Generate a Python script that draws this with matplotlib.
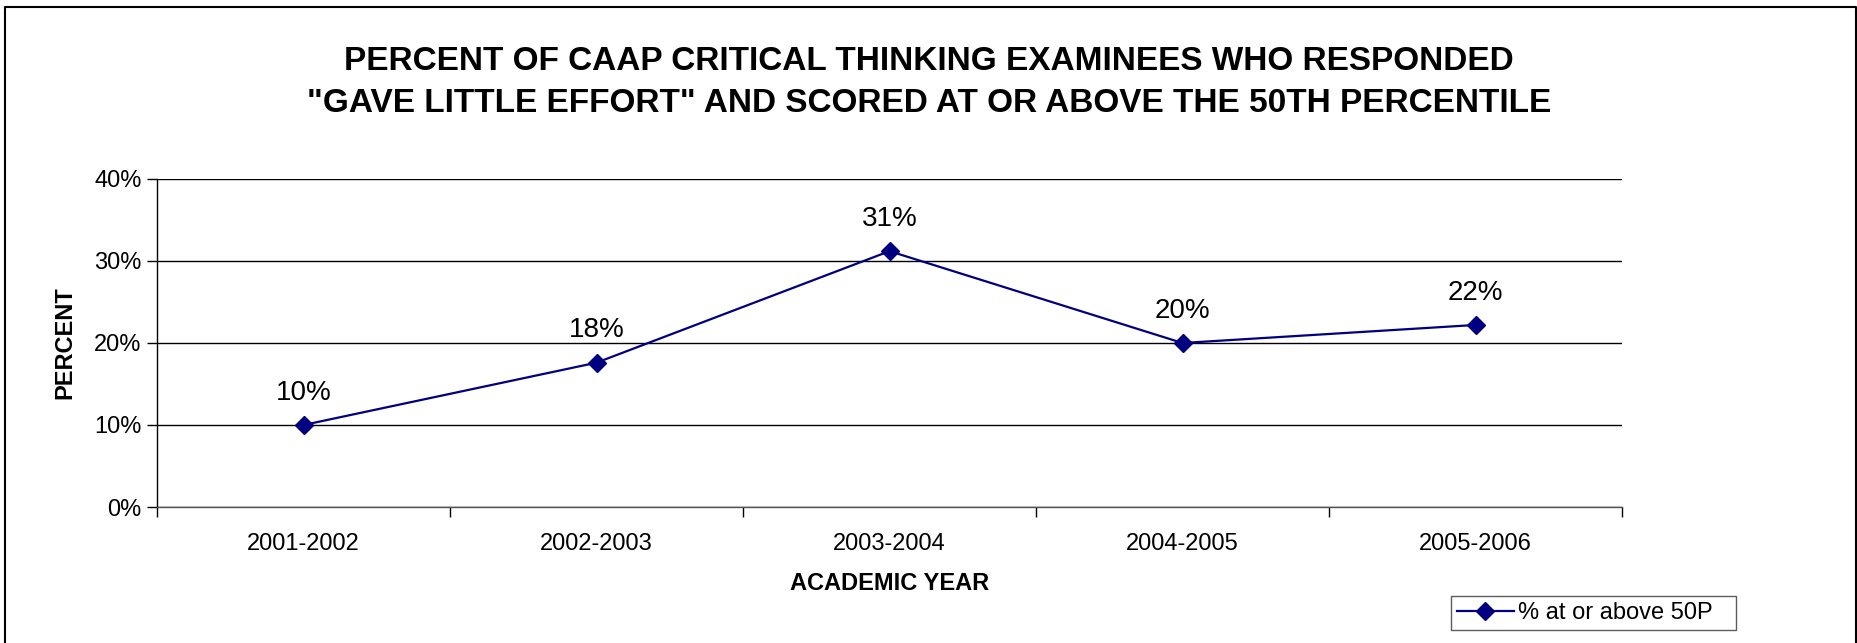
import matplotlib
matplotlib.use("Agg")
import matplotlib.pyplot as plt
from matplotlib.lines import Line2D

plt.rcParams["font.family"] = ["Liberation Sans", "DejaVu Sans"]

years = ["2001-2002", "2002-2003", "2003-2004", "2004-2005", "2005-2006"]
pct = [10.0, 17.6, 31.2, 20.0, 22.2]
labels = ["10%", "18%", "31%", "20%", "22%"]
yticks = [0, 10, 20, 30, 40]

NAVY = "#000080"

fig = plt.figure(figsize=(18.58, 6.43), dpi=100)
ax = fig.add_axes([157 / 1858, 1 - 507 / 643, (1622 - 157) / 1858, (507 - 179) / 643])

x = list(range(len(years)))
ax.plot(x, pct, color=NAVY, lw=1.6, marker="D", ms=9, mfc=NAVY, mec=NAVY, zorder=3)
for xi, yi, lab in zip(x, pct, labels):
    ax.annotate(lab, (xi, yi), xytext=(0, 14), textcoords="offset points",
                ha="center", va="bottom", fontsize=20)

ax.set_xlim(-0.5, len(years) - 0.5)
ax.set_ylim(0, 40)
ax.set_yticks(yticks)
ax.set_yticklabels([f"{v}%" for v in yticks], fontsize=17)
ax.set_xticks([i - 0.5 for i in range(len(years) + 1)])
ax.set_xticklabels([])
ax.set_xticks(x, minor=True)
ax.set_xticklabels(years, minor=True, fontsize=17)
ax.tick_params(axis="x", which="minor", length=0, pad=19)
ax.tick_params(axis="x", which="major", direction="out", length=7, width=1)
ax.tick_params(axis="y", direction="out", length=7, width=1, pad=4)
ax.grid(axis="y", color="black", lw=1)
ax.set_axisbelow(True)
for s in ["top", "right"]:
    ax.spines[s].set_visible(False)
ax.spines["left"].set_linewidth(1)
ax.spines["bottom"].set_linewidth(1)
ax.spines["bottom"].set_color("#555555")

ax.set_ylabel("PERCENT", fontsize=17, fontweight="bold", labelpad=13)
ax.set_xlabel("ACADEMIC YEAR", fontsize=17, fontweight="bold", labelpad=12)

fig.text(0.5, 1 - 69.5 / 643, "PERCENT OF CAAP CRITICAL THINKING EXAMINEES WHO RESPONDED",
         ha="center", va="baseline", fontsize=24, fontweight="bold")
fig.text(0.5, 1 - 112 / 643, "\"GAVE LITTLE EFFORT\" AND SCORED AT OR ABOVE THE 50TH PERCENTILE",
         ha="center", va="baseline", fontsize=24, fontweight="bold")

handle = Line2D([], [], color=NAVY, lw=1.6, marker="D", ms=9, mfc=NAVY, mec=NAVY)
leg = fig.legend([handle], ["% at or above 50P"], loc="lower left",
                 bbox_to_anchor=(1451 / 1858, 1 - 630 / 643, (1736 - 1451) / 1858, 40 / 643),
                 mode="expand", fontsize=17, fancybox=False, frameon=True,
                 handlelength=2.4, borderpad=0.25, handletextpad=0.2, borderaxespad=0)
leg.get_frame().set_edgecolor("#333333")
leg.get_frame().set_linewidth(1)

# outer chart frame (left, top, right)
fig.add_artist(Line2D([5 / 1858, 5 / 1858, 1856 / 1858, 1856 / 1858],
                      [0, 1 - 7 / 643, 1 - 7 / 643, 0],
                      transform=fig.transFigure, color="black", lw=1.5))

fig.savefig("out.png", dpi=100)
